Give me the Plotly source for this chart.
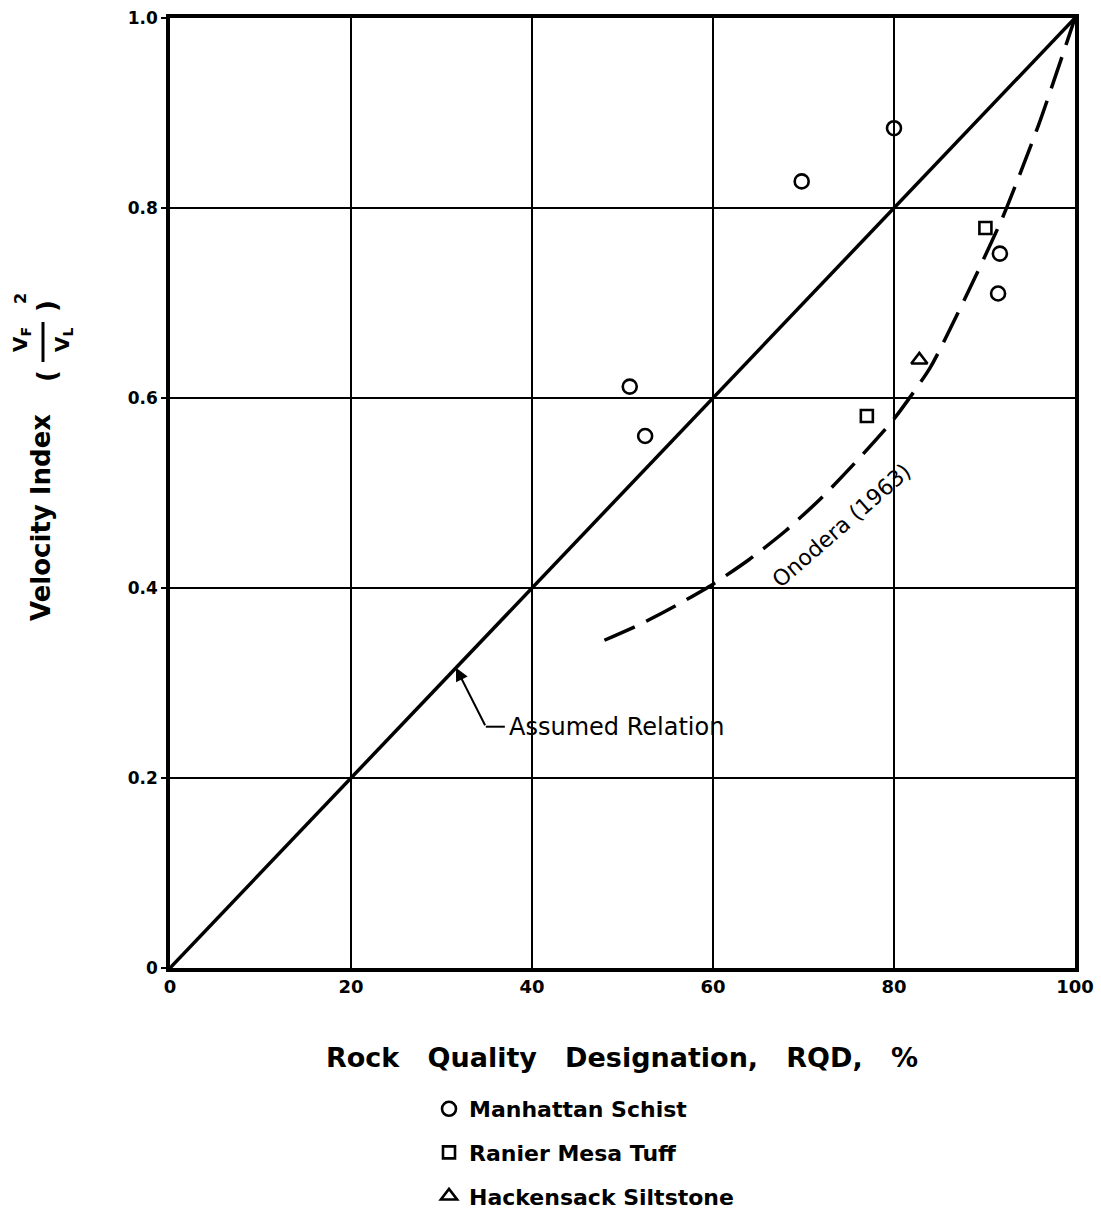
import plotly.graph_objects as go

# Field measurements: RQD (%) vs. velocity index (VF/VL)^2
schist_rqd = [50.8, 52.5, 69.8, 80.0, 91.7, 91.5]
schist_vi = [0.612, 0.560, 0.828, 0.884, 0.752, 0.710]

tuff_rqd = [77.0, 90.1]
tuff_vi = [0.581, 0.779]

siltstone_rqd = [82.8]
siltstone_vi = [0.640]

# Assumed linear relation
assumed_rqd = [0, 100]
assumed_vi = [0.0, 1.0]

# Onodera (1963) curve
onodera_rqd = [48, 52, 56, 60, 64, 68, 72, 76, 80, 84, 88, 92, 96, 100]
onodera_vi = [0.345, 0.362, 0.382, 0.404, 0.430, 0.460, 0.495, 0.535,
              0.578, 0.632, 0.708, 0.790, 0.888, 1.0]

x_ticks = [0, 20, 40, 60, 80, 100]
x_tick_text = ["0", "20", "40", "60", "80", "100"]
y_ticks = [0, 0.2, 0.4, 0.6, 0.8, 1.0]
y_tick_text = ["0", "0.2", "0.4", "0.6", "0.8", "1.0"]

FONT = "DejaVu Sans"
INK = "black"
SP = "\u00a0\u00a0\u00a0"

W, H = 1101, 1225
L, R, T, B = 170, 26, 18, 257
PW, PH = W - L - R, H - T - B


def px(xp):
    return (xp - L) / PW


def py(yp):
    return (T + PH - yp) / PH


def label(xp, yp, text, size, angle=-90):
    return dict(x=px(xp), y=py(yp), xref="paper", yref="paper", text=text,
                showarrow=False, textangle=angle, xanchor="center", yanchor="middle",
                font=dict(family=FONT, size=size, color=INK))


fig = go.Figure()

fig.add_trace(go.Scatter(
    x=assumed_rqd, y=assumed_vi, mode="lines",
    line=dict(color=INK, width=3.5), showlegend=False, hoverinfo="skip"))

fig.add_trace(go.Scatter(
    x=onodera_rqd, y=onodera_vi, mode="lines",
    line=dict(color=INK, width=3.5, dash="33px,13px", shape="spline", smoothing=0.6),
    showlegend=False, hoverinfo="skip"))

marker_line = dict(color=INK, width=2.6)
fig.add_trace(go.Scatter(
    x=schist_rqd, y=schist_vi, mode="markers", name="Manhattan Schist",
    legendgroup="a",
    marker=dict(symbol="circle-open", size=14, color=INK, line=marker_line)))
fig.add_trace(go.Scatter(
    x=tuff_rqd, y=tuff_vi, mode="markers", name="Ranier Mesa Tuff",
    legendgroup="b",
    marker=dict(symbol="square-open", size=12, color=INK, line=marker_line)))
fig.add_trace(go.Scatter(
    x=siltstone_rqd, y=siltstone_vi, mode="markers", name="Hackensack Siltstone",
    legendgroup="c",
    marker=dict(symbol="triangle-up-open", size=14, color=INK, line=marker_line)))

annotations = [
    # curve label
    dict(x=74.2, y=0.466, xref="x", yref="y", text="Onodera (1963)",
         showarrow=False, textangle=-41, xanchor="center", yanchor="middle",
         font=dict(family=FONT, size=22, color=INK)),
    # leader arrow for the assumed relation
    dict(x=31.6, y=0.316, xref="x", yref="y", ax=34.9, ay=0.254,
         axref="x", ayref="y", text="", showarrow=True,
         arrowhead=2, arrowsize=1.3, arrowwidth=2, arrowcolor=INK, standoff=0),
    dict(x=37.2, y=0.254, xref="x", yref="y", text="Assumed Relation",
         showarrow=False, xanchor="left", yanchor="middle",
         font=dict(family=FONT, size=24, color=INK)),
    # y-axis title, built from pieces
    label(41, 518, "<b>Velocity Index</b>", 26),
    label(47, 376, "<b>(</b>", 26),
    label(47, 306, "<b>)</b>", 26),
    label(21, 340, "<b>V<sub>F</sub></b>", 20),
    label(63, 340, "<b>V<sub>L</sub></b>", 20),
    label(21, 299, "<b>2</b>", 16),
    # x-axis title
    label(622, 1057, "<b>Rock" + SP + "Quality" + SP + "Designation," + SP + "RQD," + SP + "%</b>",
          27, angle=0),
]

shapes = [
    # horizontal piece of the leader
    dict(type="line", xref="x", yref="y", x0=34.9, y0=0.254, x1=37.0, y1=0.254,
         line=dict(color=INK, width=2)),
    # fraction bar of the y-axis title
    dict(type="line", xref="paper", yref="paper", x0=px(43), y0=py(322),
         x1=px(43), y1=py(362), line=dict(color=INK, width=3)),
]

fig.update_layout(
    width=W, height=H,
    margin=dict(l=L, r=R, t=T, b=B, autoexpand=False),
    paper_bgcolor="white", plot_bgcolor="white",
    font=dict(family=FONT, color=INK),
    annotations=annotations,
    shapes=shapes,
    showlegend=True,
    legend=dict(
        x=px(429), y=py(1088), xanchor="left", yanchor="top",
        bgcolor="rgba(0,0,0,0)", tracegroupgap=12,
        font=dict(family=FONT, size=22, color=INK, weight="bold"),
        itemwidth=30,
    ),
)

fig.update_xaxes(
    range=[0, 100], tickvals=x_ticks, ticktext=x_tick_text,
    showgrid=True, gridcolor=INK, gridwidth=2,
    showline=True, linecolor=INK, linewidth=3.5, mirror=True,
    ticks="", zeroline=False,
    tickfont=dict(family=FONT, size=18, color=INK, weight="bold"),
)
fig.update_yaxes(
    range=[0, 1], tickvals=y_ticks, ticktext=y_tick_text,
    showgrid=True, gridcolor=INK, gridwidth=2,
    showline=True, linecolor=INK, linewidth=3.5, mirror=True,
    ticks="outside", ticklen=5, tickwidth=2, tickcolor=INK, zeroline=False,
    tickfont=dict(family=FONT, size=17, color=INK, weight="bold"),
)

fig.write_html("out.html")
